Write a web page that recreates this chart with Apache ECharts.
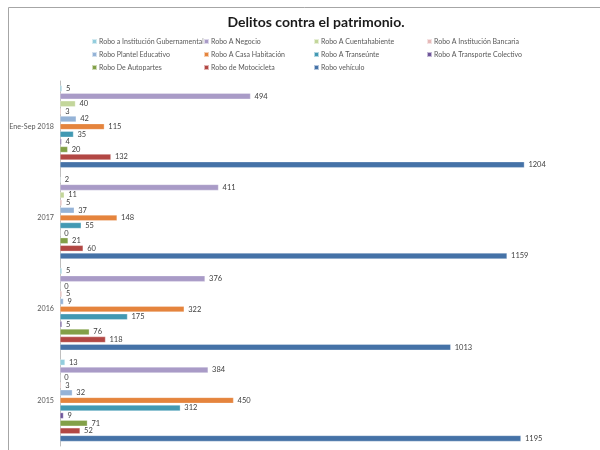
<!DOCTYPE html>
<html>
<head>
<meta charset="utf-8">
<script src="https://cdn.jsdelivr.net/npm/echarts@6/dist/echarts.min.js"></script>
<style>
  html, body { margin: 0; padding: 0; background: #fff; }
  #chart { width: 600px; height: 450px; }
</style>
</head>
<body>
<div id="chart"></div>
<script>
// Periods (top to bottom)
const periods = ['Ene-Sep 2018', '2017', '2016', '2015'];

// Series names, in drawing order inside each period
const seriesNames = [
  'Robo a Institución Gubernamental',
  'Robo A Negocio',
  'Robo A Cuentahabiente',
  'Robo A Institución Bancaria',
  'Robo Plantel Educativo',
  'Robo A Casa Habitación',
  'Robo A Transeúnte',
  'Robo A Transporte Colectivo',
  'Robo De Autopartes',
  'Robo de Motocicleta',
  'Robo vehículo'
];

// Values per series, one per period
const roboGubernamental = [5, 2, 5, 13];
const roboNegocio = [494, 411, 376, 384];
const roboCuentahabiente = [40, 11, 0, 0];
const roboBancaria = [3, 5, 5, 3];
const roboPlantel = [42, 37, 9, 32];
const roboCasa = [115, 148, 322, 450];
const roboTranseunte = [35, 55, 175, 312];
const roboTransporte = [4, 0, 5, 9];
const roboAutopartes = [20, 21, 76, 71];
const roboMotocicleta = [132, 60, 118, 52];
const roboVehiculo = [1204, 1159, 1013, 1195];

const seriesValues = [
  roboGubernamental, roboNegocio, roboCuentahabiente, roboBancaria,
  roboPlantel, roboCasa, roboTranseunte, roboTransporte,
  roboAutopartes, roboMotocicleta, roboVehiculo
];

const colors = [
  '#93CDDD', '#A99BC7', '#C3D69B', '#E6B9B8',
  '#95B3D7', '#E5843D', '#4299B3', '#6E559A',
  '#82A048', '#B24744', '#4572A7'
];

const FONT = 'Lato, "Liberation Sans", sans-serif';

// Legend laid out in a 4-column grid
const legendCols = [91, 203, 313, 426];
const legendRows = [38, 51, 64];
const legends = seriesNames.map((name, i) => ({
  data: [name],
  left: legendCols[i % 4],
  top: legendRows[Math.floor(i / 4)],
  padding: 0,
  itemWidth: 5,
  itemHeight: 5,
  icon: 'rect',
  textStyle: { fontFamily: FONT, fontSize: 7, color: '#595959', padding: [0, 0, 0, -3] },
  selectedMode: false
}));

const chart = echarts.init(document.getElementById('chart'), null, { renderer: 'canvas' });

chart.setOption({
  animation: false,
  color: colors,
  textStyle: { fontFamily: FONT },
  title: {
    text: 'Delitos contra el patrimonio.',
    left: 311,
    top: 10,
    textAlign: 'center',
    textStyle: { fontFamily: FONT, fontSize: 14, fontWeight: 'bold', color: '#1a1a1a' }
  },
  graphic: [{
    type: 'rect',
    shape: { x: 8.5, y: 7.5, width: 700, height: 600 },
    style: { fill: 'none', stroke: '#a6a6a6', lineWidth: 1 },
    silent: true
  }],
  legend: legends,
  grid: { left: 60, top: 81, width: 544, height: 365, containLabel: false },
  xAxis: {
    type: 'value',
    min: 0,
    max: 1400,
    interval: 200,
    axisLine: { show: false },
    axisTick: { show: false },
    axisLabel: { show: false },
    splitLine: { show: false }
  },
  yAxis: {
    type: 'category',
    data: periods,
    inverse: true,
    axisLine: { show: true, lineStyle: { color: '#bfbfbf', width: 1 } },
    axisTick: { show: false },
    axisLabel: { fontFamily: FONT, fontSize: 7.2, color: '#595959', margin: 6 }
  },
  series: seriesNames.map((name, i) => ({
    name: name,
    type: 'bar',
    data: seriesValues[i],
    barCategoryGap: '10%',
    barGap: '27%',
    itemStyle: { color: colors[i], borderColor: 'rgba(255,255,255,0.6)', borderWidth: 0.5 },
    label: {
      show: true,
      position: 'right',
      distance: 4,
      fontFamily: FONT,
      fontSize: 7.5,
      color: '#404040'
    }
  }))
});
</script>
</body>
</html>
